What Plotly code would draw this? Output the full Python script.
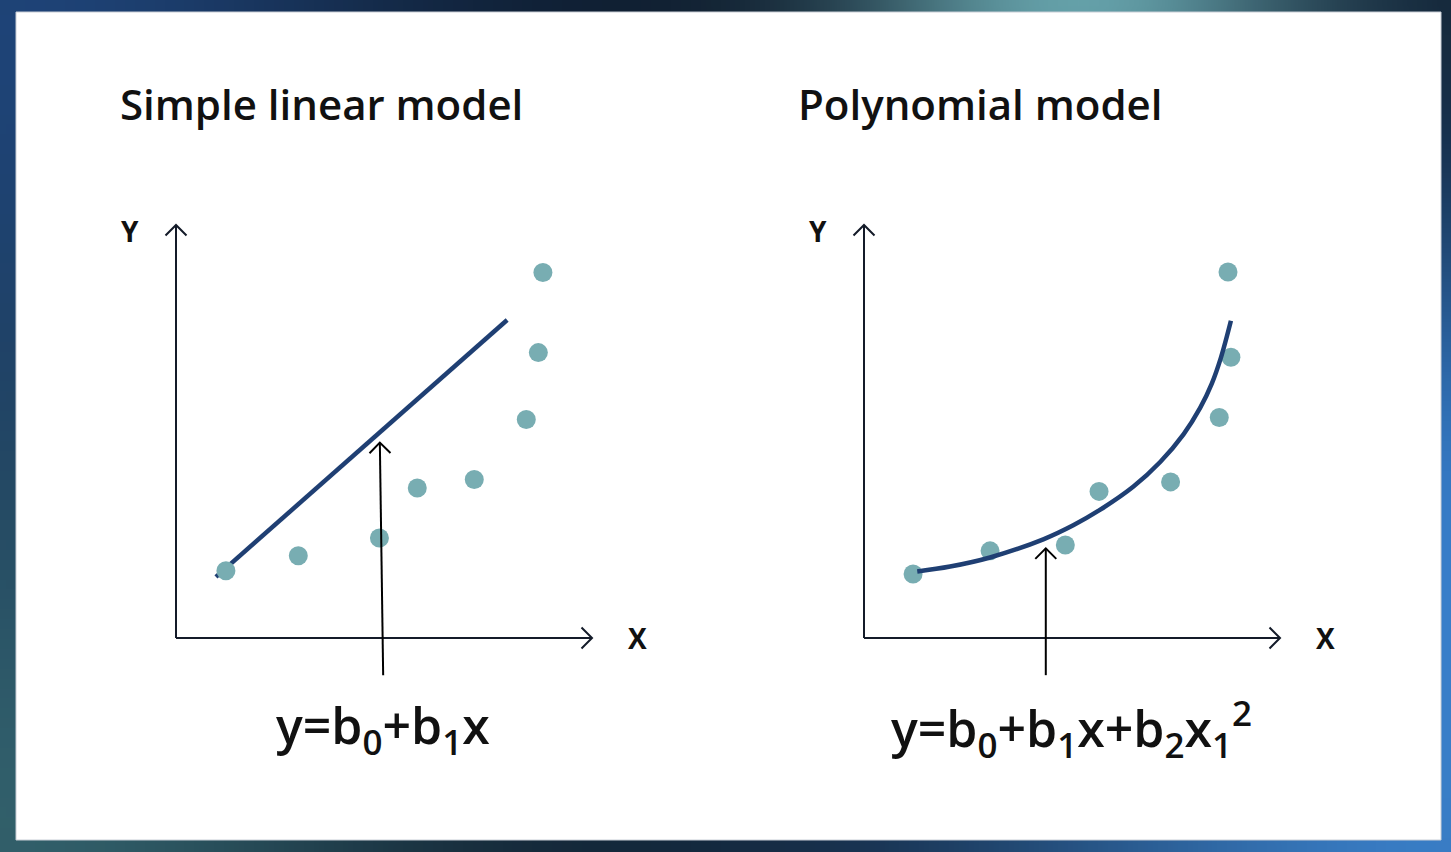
import zlib, struct, base64
import numpy as np
import plotly.graph_objects as go

W, H = 1451, 852

# ---------------- data (in each panel's own axis units) ----------------
lin_dots_x = [1.20, 2.94, 4.89, 5.80, 7.17, 8.42, 8.71, 8.82]
lin_dots_y = [1.63, 1.99, 2.42, 3.63, 3.84, 5.29, 6.91, 8.85]
lin_fit_x = [0.96, 7.96]
lin_fit_y = [1.48, 7.70]

poly_dots_x = [1.18, 3.03, 4.84, 5.65, 7.37, 8.54, 8.82, 8.75]
poly_dots_y = [1.55, 2.11, 2.25, 3.55, 3.78, 5.34, 6.80, 8.86]
poly_fit_x = [1.28, 2.07, 3.03, 4.31, 5.03, 5.67, 6.47, 7.12, 7.68, 8.08, 8.36, 8.58, 8.82]
poly_fit_y = [1.61, 1.73, 1.95, 2.39, 2.73, 3.10, 3.66, 4.26, 4.93, 5.57, 6.16, 6.79, 7.68]

# pointer arrows: (tail_x, tail_y, tip_x, tip_y)
lin_pointer = [4.98, -0.90, 4.90, 4.73]
poly_pointer = [4.37, -0.90, 4.37, 2.17]
# axis arrows share the origin; tips at 10 units
axis_len = 10

titles = ["Simple linear model", "Polynomial model"]
formulas = ["y=b<sub>0</sub>+b<sub>1</sub>x",
            "y=b<sub>0</sub>+b<sub>1</sub>x+b<sub>2</sub>x<sub>1</sub><sup>2</sup>"]
axis_labels = ["X", "Y"]

# ---------------- styling ----------------
DOT = "#78adb2"
FIT = "#1f3f73"
AXC = "#141b29"
TXT = "#111111"
FONT = "'Open Sans', Lato, sans-serif"

# ---------------- background gradient (decorative frame) ----------------
def png_uri(arr):
    h, w, _ = arr.shape
    raw = b"".join(b"\x00" + arr[i].tobytes() for i in range(h))
    def chunk(tag, data):
        c = struct.pack(">I", len(data)) + tag + data
        return c + struct.pack(">I", zlib.crc32(tag + data) & 0xffffffff)
    png = (b"\x89PNG\r\n\x1a\n"
           + chunk(b"IHDR", struct.pack(">IIBBBBB", w, h, 8, 2, 0, 0, 0))
           + chunk(b"IDAT", zlib.compress(raw, 9))
           + chunk(b"IEND", b""))
    return "data:image/png;base64," + base64.b64encode(png).decode()

gw, gh = 146, 86
gx = np.linspace(0, W, gw)[None, :]
gy = np.linspace(0, H, gh)[:, None]
base = np.array([13, 25, 40], float)
img = np.zeros((gh, gw, 3)) + base
glows = [((0, 0), (30, 66, 118), 420, 520),
         ((1080, 0), (100, 158, 165), 230, 110),
         ((0, 852), (48, 92, 100), 420, 420),
         ((1451, 852), (56, 122, 192), 520, 480),
         ((1451, 420), (30, 70, 115), 150, 260)]
for (cx, cy), col, rx, ry in glows:
    w = np.exp(-(((gx - cx) / rx) ** 2 + ((gy - cy) / ry) ** 2))
    img += w[..., None] * (np.array(col, float) - base)
img = np.clip(img, 0, 255).astype(np.uint8)

# ---------------- axes geometry (pixel mapping) ----------------
PX_X = 41.6   # pixels per x-unit
PX_Y = 41.3   # pixels per y-unit
ORIG = [(176, 638), (864, 638)]
XR = [-3, 12]
YR = [-3, 11]

fig = go.Figure()
layout_axes = {}
for i, (ox, oy) in enumerate(ORIG):
    n = "" if i == 0 else "2"
    x0 = (ox + XR[0] * PX_X) / W
    x1 = (ox + XR[1] * PX_X) / W
    y0 = 1 - (oy - YR[0] * PX_Y) / H
    y1 = 1 - (oy - YR[1] * PX_Y) / H
    layout_axes["xaxis" + n] = dict(domain=[x0, x1], range=XR, visible=False,
                                    fixedrange=True, anchor="y" + n)
    layout_axes["yaxis" + n] = dict(domain=[y0, y1], range=YR, visible=False,
                                    fixedrange=True, anchor="x" + n)


def arrow_trace(tx, ty, hx, hy, xa, ya, color, width=2, head_w=10.5, head_l=10.5):
    """shaft + open chevron head, head sized in pixels"""
    dxp = (hx - tx) * PX_X
    dyp = (hy - ty) * PX_Y
    L = (dxp ** 2 + dyp ** 2) ** 0.5
    ux, uy = dxp / L, dyp / L
    nx, ny = -uy, ux
    bx1 = hx + (-ux * head_l + nx * head_w) / PX_X
    by1 = hy + (-uy * head_l + ny * head_w) / PX_Y
    bx2 = hx + (-ux * head_l - nx * head_w) / PX_X
    by2 = hy + (-uy * head_l - ny * head_w) / PX_Y
    xs = [tx, hx, None, bx1, hx, bx2]
    ys = [ty, hy, None, by1, hy, by2]
    return go.Scatter(x=xs, y=ys, mode="lines", xaxis=xa, yaxis=ya,
                      line=dict(color=color, width=width), hoverinfo="skip",
                      cliponaxis=False)


for i in range(2):
    xa = "x" if i == 0 else "x2"
    ya = "y" if i == 0 else "y2"
    fig.add_trace(arrow_trace(0, 0, 0, axis_len, xa, ya, AXC))
    fig.add_trace(arrow_trace(0, 0, axis_len, 0, xa, ya, AXC))

# left panel: line below dots
fig.add_trace(go.Scatter(x=lin_fit_x, y=lin_fit_y, mode="lines",
                         line=dict(color=FIT, width=4.5), xaxis="x", yaxis="y",
                         hoverinfo="skip"))
fig.add_trace(go.Scatter(x=lin_dots_x, y=lin_dots_y, mode="markers",
                         marker=dict(color=DOT, size=19, line=dict(width=0)),
                         xaxis="x", yaxis="y", cliponaxis=False))
fig.add_trace(arrow_trace(*lin_pointer, "x", "y", "#000000"))

# right panel: dots below curve
fig.add_trace(go.Scatter(x=poly_dots_x, y=poly_dots_y, mode="markers",
                         marker=dict(color=DOT, size=19, line=dict(width=0)),
                         xaxis="x2", yaxis="y2", cliponaxis=False))
fig.add_trace(go.Scatter(x=poly_fit_x, y=poly_fit_y, mode="lines",
                         line=dict(color=FIT, width=4.5, shape="spline", smoothing=1.0),
                         xaxis="x2", yaxis="y2", hoverinfo="skip"))
fig.add_trace(arrow_trace(*poly_pointer, "x2", "y2", "#000000"))

ann = []
for i in range(2):
    xr = "x" if i == 0 else "x2"
    yr = "y" if i == 0 else "y2"
    ann.append(dict(x=11.1, y=0, xref=xr, yref=yr, text=axis_labels[0], showarrow=False,
                    font=dict(family=FONT, size=28, color=TXT, weight=700),
                    xanchor="center", yanchor="middle"))
    ann.append(dict(x=-1.1, y=9.85, xref=xr, yref=yr, text=axis_labels[1], showarrow=False,
                    font=dict(family=FONT, size=28, color=TXT, weight=700),
                    xanchor="center", yanchor="middle"))

title_px = [(118, 104), (796, 104)]
for t, (px, py) in zip(titles, title_px):
    ann.append(dict(x=px / W, y=1 - py / H, xref="paper", yref="paper", text=t,
                    showarrow=False, xanchor="left", yanchor="middle",
                    font=dict(family=FONT, size=42, color=TXT, weight=600)))

form_px = [(383, 728), (1071, 728)]
for t, (px, py) in zip(formulas, form_px):
    ann.append(dict(x=px / W, y=1 - py / H, xref="paper", yref="paper", text=t,
                    showarrow=False, xanchor="center", yanchor="middle",
                    font=dict(family=FONT, size=50, color=TXT, weight=600)))

fig.update_layout(
    width=W, height=H, margin=dict(l=0, r=0, t=0, b=0),
    paper_bgcolor="#0e1b2b", plot_bgcolor="rgba(0,0,0,0)",
    showlegend=False, annotations=ann,
    images=[dict(source=png_uri(img), xref="paper", yref="paper", x=0, y=1,
                 sizex=1, sizey=1, xanchor="left", yanchor="top",
                 sizing="stretch", layer="below")],
    shapes=[dict(type="rect", xref="paper", yref="paper",
                 x0=16 / W, x1=1441 / W, y0=1 - 840 / H, y1=1 - 12 / H,
                 fillcolor="#ffffff", line=dict(color="#c9ced6", width=1), layer="below")],
    **layout_axes,
)

fig.write_html("out.html", config={"displayModeBar": False},
               post_script="document.body.style.margin='0';document.body.style.overflow='hidden';")
